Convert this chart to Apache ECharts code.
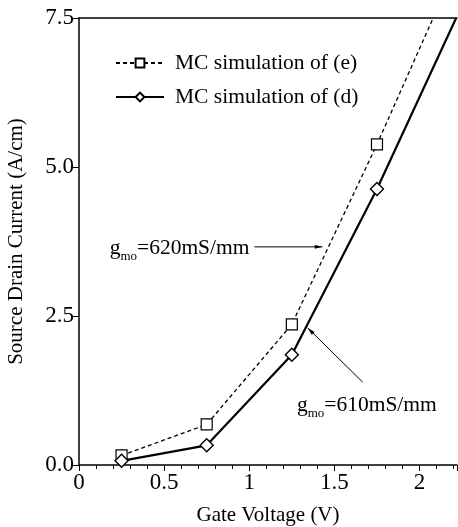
<!DOCTYPE html>
<html>
<head>
<meta charset="utf-8">
<script src="https://cdn.jsdelivr.net/npm/echarts@6/dist/echarts.min.js"></script>
<style>
html, body { margin: 0; padding: 0; background: #fff; }
#main { width: 458px; height: 527px; }
</style>
</head>
<body>
<div id="main"></div>
<script>
// gate voltage (V)
var gateVoltage = [0.25, 0.75, 1.25, 1.75];
// MC simulation of (e), dashed / squares, plus where the line leaves the top
var currentE = [0.16, 0.68, 2.36, 5.38];
var tailE = [2.08, 7.5];
// MC simulation of (d), solid / diamonds
var currentD = [0.07, 0.33, 1.85, 4.63];
var tailD = [2.215, 7.5];

var yTicks = [0, 2.5, 5, 7.5];
var xTicks = [0, 0.5, 1, 1.5, 2];

// annotation anchors in data units
var note620 = { text: [0.18, 3.64], from: [1.03, 3.66], to: [1.43, 3.66] };
var note610 = { text: [1.28, 1.0], from: [1.666, 1.39], to: [1.343, 2.30] };

function pairs(xs, ys, tail) {
    var out = xs.map(function (x, i) { return [x, ys[i]]; });
    out.push({ value: tail, symbol: 'none' });
    return out;
}

var font = 'Liberation Serif';
var myChart = echarts.init(document.getElementById('main'));

myChart.setOption({
    animation: false,
    textStyle: { fontFamily: font, color: '#000' },
    grid: { left: 79, right: 1, top: 18, bottom: 62, show: false, containLabel: false, outerBoundsMode: 'none' },
    legend: {
        left: 110,
        top: 47,
        orient: 'vertical',
        itemGap: 12,
        itemWidth: 48,
        itemHeight: 11,
        textStyle: { fontFamily: font, fontSize: 21.5, color: '#000', padding: [0, 0, 0, 6] },
        data: ['MC simulation of (e)', 'MC simulation of (d)']
    },
    xAxis: [{
        type: 'value',
        min: 0,
        max: 2.22,
        interval: 0.5,
        name: 'Gate Voltage (V)',
        nameLocation: 'middle',
        nameGap: 40,
        nameTextStyle: { fontFamily: font, fontSize: 21, color: '#000' },
        axisLine: { show: true, lineStyle: { color: '#000', width: 1.5 } },
        axisTick: { show: true, length: 6, lineStyle: { color: '#000' } },
        minorTick: { show: true, splitNumber: 5, length: 4, lineStyle: { color: '#000' } },
        splitLine: { show: false },
        axisLabel: {
            fontFamily: font, fontSize: 23, color: '#000', margin: 6,
            showMaxLabel: false,
            formatter: function (v) { return xTicks.indexOf(v) >= 0 ? String(v) : ''; }
        }
    }, {
        type: 'value',
        position: 'top',
        min: 0,
        max: 2.22,
        axisLine: { show: true, onZero: false, lineStyle: { color: '#000', width: 1.5 } },
        axisTick: { show: false },
        axisLabel: { show: false },
        splitLine: { show: false }
    }],
    yAxis: {
        type: 'value',
        min: 0,
        max: 7.5,
        interval: 2.5,
        name: 'Source Drain Current (A/cm)',
        nameLocation: 'middle',
        nameGap: 52,
        nameTextStyle: { fontFamily: font, fontSize: 21, color: '#000' },
        axisLine: { show: true, lineStyle: { color: '#000', width: 1.5 } },
        axisTick: { show: true, length: 6, lineStyle: { color: '#000' } },
        splitLine: { show: false },
        axisLabel: {
            fontFamily: font, fontSize: 23, color: '#000', margin: 5,
            formatter: function (v) { return yTicks.indexOf(v) >= 0 ? v.toFixed(1) : ''; }
        }
    },
    series: [{
        name: 'MC simulation of (e)',
        type: 'line',
        data: pairs(gateVoltage, currentE, tailE),
        symbol: 'rect',
        symbolSize: 11,
        showAllSymbol: true,
        itemStyle: { color: '#fff', borderColor: '#000', borderWidth: 1.2 },
        lineStyle: { color: '#000', width: 1.3, type: [4, 3] },
        z: 3
    }, {
        name: 'MC simulation of (d)',
        type: 'line',
        data: pairs(gateVoltage, currentD, tailD),
        symbol: 'diamond',
        symbolSize: 13,
        showAllSymbol: true,
        itemStyle: { color: '#fff', borderColor: '#000', borderWidth: 1.4 },
        lineStyle: { color: '#000', width: 2.2 },
        z: 4
    }]
});

function richLabel(value) {
    return '{n|g}{s|mo}{n|=' + value + 'mS/mm}';
}

function placeNotes() {
    var graphics = [];
    [[note620, '620'], [note610, '610']].forEach(function (pair) {
        var note = pair[0];
        var t = myChart.convertToPixel({ gridIndex: 0 }, note.text);
        var a = myChart.convertToPixel({ gridIndex: 0 }, note.from);
        var b = myChart.convertToPixel({ gridIndex: 0 }, note.to);
        graphics.push({
            type: 'text',
            x: t[0],
            y: t[1],
            style: {
                text: richLabel(pair[1]),
                verticalAlign: 'middle',
                rich: {
                    n: { fontFamily: font, fontSize: 21.5, fill: '#000', verticalAlign: 'bottom' },
                    s: { fontFamily: font, fontSize: 13, fill: '#000', verticalAlign: 'bottom', padding: [0, 0, -4, 0] }
                }
            }
        });
        graphics.push({
            type: 'line',
            shape: { x1: a[0], y1: a[1], x2: b[0], y2: b[1] },
            style: { stroke: '#000', lineWidth: 1 }
        });
        var ang = Math.atan2(b[1] - a[1], b[0] - a[0]);
        var len = 8, spread = 0.25;
        graphics.push({
            type: 'polygon',
            shape: {
                points: [
                    [b[0], b[1]],
                    [b[0] - len * Math.cos(ang - spread), b[1] - len * Math.sin(ang - spread)],
                    [b[0] - len * Math.cos(ang + spread), b[1] - len * Math.sin(ang + spread)]
                ]
            },
            style: { fill: '#000' }
        });
    });
    myChart.setOption({ graphic: graphics });
}
placeNotes();
</script>
</body>
</html>
